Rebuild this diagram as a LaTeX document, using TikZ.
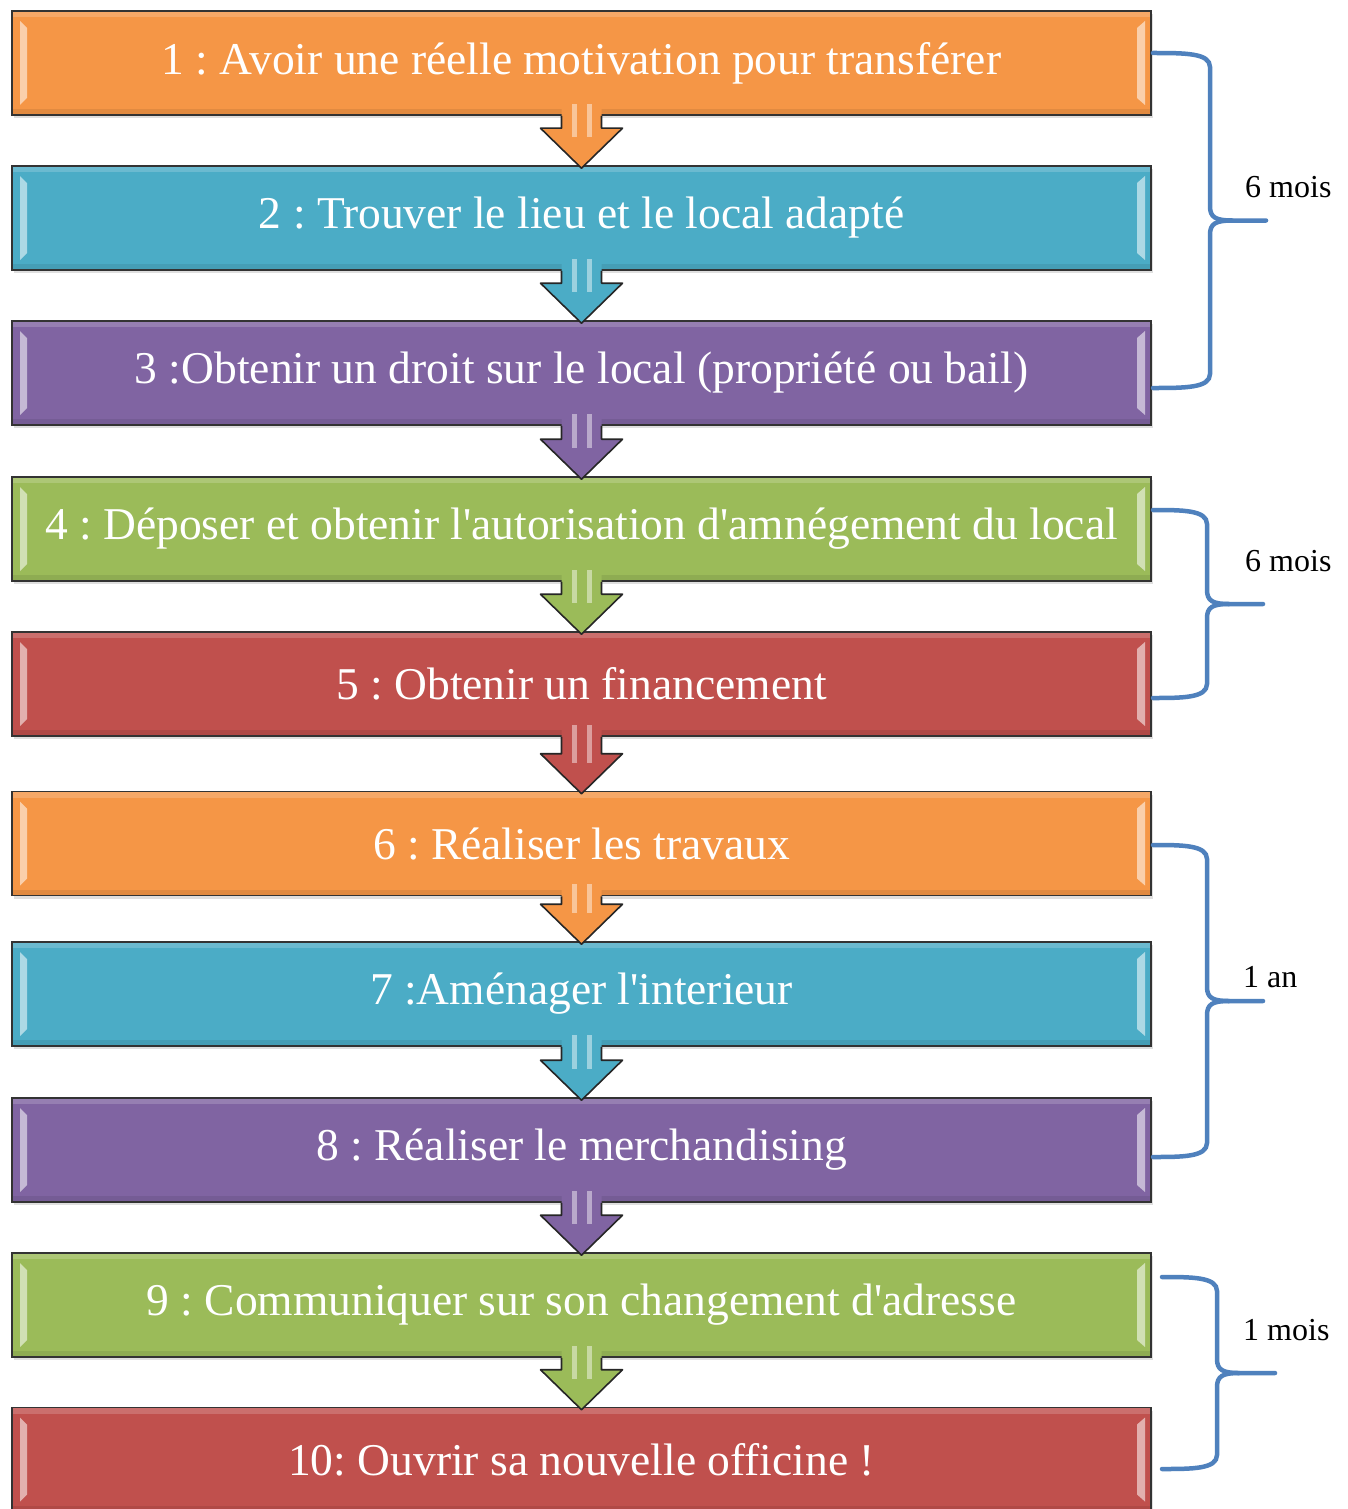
\documentclass[tikz,border=0pt]{standalone}
\usepackage{fontspec}
\setmainfont{Liberation Serif}
\usetikzlibrary{calc,shadows}
\definecolor{orangeS}{HTML}{F59646}
\definecolor{blueS}{HTML}{4BACC6}
\definecolor{purpleS}{HTML}{8064A2}
\definecolor{greenS}{HTML}{9BBB59}
\definecolor{redS}{HTML}{C0504D}
\definecolor{braceS}{HTML}{4F81BD}
\frenchspacing
\tikzset{
 stepbox/.style={draw=black!80,line width=1.6pt,minimum width=1139pt,minimum height=104pt,
  inner sep=0pt,text=white,font=\fontsize{45.5}{48}\selectfont,
  drop shadow={shadow xshift=1.5pt,shadow yshift=-3pt,opacity=0.25},
  path picture={
   \fill[white,opacity=0.18] (path picture bounding box.north west) rectangle ($(path picture bounding box.north east)+(0,6)$);
   \fill[black,opacity=0.08] ($(path picture bounding box.south west)+(0,-6)$) rectangle (path picture bounding box.south east);
   \fill[white,opacity=0.55] ($(path picture bounding box.north west)+(8,10)$) -- ($(path picture bounding box.north west)+(15,17)$) -- ($(path picture bounding box.south west)+(15,-17)$) -- ($(path picture bounding box.south west)+(8,-10)$) -- cycle;
   \fill[white,opacity=0.55] ($(path picture bounding box.north east)+(-6,10)$) -- ($(path picture bounding box.north east)+(-14,17)$) -- ($(path picture bounding box.south east)+(-14,-17)$) -- ($(path picture bounding box.south east)+(-6,-10)$) -- cycle;
  }},
 arrowline/.style={draw=black!85,line width=1.6pt,line join=round},
 bracel/.style={draw=braceS,line width=4.5pt,line cap=round},
 timelabel/.style={anchor=west,inner sep=0pt,font=\fontsize{32}{34}\selectfont}
}
\newcommand{\flowarrow}[3]{%
 \fill[#3] let \p1=(#1.south), \p2=(#2.north) in
  (\x1-20pt,\y1+15pt) -- (\x1-20pt,\y2+37pt) -- (\x1-41pt,\y2+37pt) -- (\x1,\y2-3pt) --
  (\x1+41pt,\y2+37pt) -- (\x1+20pt,\y2+37pt) -- (\x1+20pt,\y1+15pt) -- cycle;
 \fill[white,opacity=0.45] let \p1=(#1.south), \p2=(#2.north) in
  (\x1-10pt,\y1+12pt) rectangle (\x1-5pt,\y2+28pt);
 \fill[white,opacity=0.45] let \p1=(#1.south), \p2=(#2.north) in
  (\x1+5pt,\y1+12pt) rectangle (\x1+10pt,\y2+28pt);
 \draw[arrowline] let \p1=(#1.south), \p2=(#2.north) in
  (\x1-20pt,\y1) -- (\x1-20pt,\y2+37pt) -- (\x1-41pt,\y2+37pt) -- (\x1,\y2-3pt) --
  (\x1+41pt,\y2+37pt) -- (\x1+20pt,\y2+37pt) -- (\x1+20pt,\y1);
}
\newcommand{\timebrace}[5]{%
 \draw[bracel] (#1,#2) .. controls (#4-25,#2) and (#4,#2) .. (#4,#2+14) -- (#4,#2/2+#3/2-14)
  .. controls (#4,#2/2+#3/2-3) and (#4+6,#2/2+#3/2) .. (#4+22,#2/2+#3/2) -- (#5,#2/2+#3/2);
 \draw[bracel] (#4+22,#2/2+#3/2) .. controls (#4+6,#2/2+#3/2) and (#4,#2/2+#3/2+3) .. (#4,#2/2+#3/2+14)
  -- (#4,#3-14) .. controls (#4,#3) and (#4-25,#3) .. (#1,#3);
}
\begin{document}
\begin{tikzpicture}[x=1pt,y=-1pt]
\useasboundingbox[fill=white] (0,0) rectangle (1348,1509);
\node[stepbox,fill=orangeS] (s1) at (581.5,63) {\raisebox{-6pt}{1 : Avoir une réelle motivation pour transférer}};
\node[stepbox,fill=blueS] (s2) at (581.5,218) {\raisebox{-6pt}{2 : Trouver le lieu et le local adapté}};
\node[stepbox,fill=purpleS] (s3) at (581.5,373) {\raisebox{-6pt}{3 :Obtenir un droit sur le local (propriété ou bail)}};
\node[stepbox,fill=greenS] (s4) at (581.5,529) {\raisebox{-6pt}{4 : Déposer et obtenir l\textquotesingle autorisation d\textquotesingle amnégement du local}};
\node[stepbox,fill=redS] (s5) at (581.5,684) {\raisebox{-6pt}{5 : Obtenir un financement}};
\node[stepbox,fill=orangeS] (s6) at (581.5,843.5) {\raisebox{-6pt}{6 : Réaliser les travaux}};
\node[stepbox,fill=blueS] (s7) at (581.5,994) {\raisebox{-6pt}{7 :Aménager l\textquotesingle interieur}};
\node[stepbox,fill=purpleS] (s8) at (581.5,1150) {\raisebox{-6pt}{8 : Réaliser le merchandising}};
\node[stepbox,fill=greenS] (s9) at (581.5,1305) {\raisebox{-6pt}{9 : Communiquer sur son changement d\textquotesingle adresse}};
\node[stepbox,fill=redS] (s10) at (581.5,1459.5) {\raisebox{-6pt}{10: Ouvrir sa nouvelle officine !}};
\flowarrow{s1}{s2}{orangeS}
\flowarrow{s2}{s3}{blueS}
\flowarrow{s3}{s4}{purpleS}
\flowarrow{s4}{s5}{greenS}
\flowarrow{s5}{s6}{redS}
\flowarrow{s6}{s7}{orangeS}
\flowarrow{s7}{s8}{blueS}
\flowarrow{s8}{s9}{purpleS}
\flowarrow{s9}{s10}{greenS}
\timebrace{1153}{53}{388}{1210}{1266}
\timebrace{1153}{510}{698}{1207}{1263}
\timebrace{1153}{845}{1157}{1207}{1263}
\timebrace{1162}{1277}{1469}{1217}{1275}
\node[timelabel] (t1) at (1245,187) {6 mois};
\node[timelabel] (t2) at (1245,561) {6 mois};
\node[timelabel] (t3) at (1243,977) {1 an};
\node[timelabel] (t4) at (1243,1330) {1 mois};
\end{tikzpicture}
\end{document}
